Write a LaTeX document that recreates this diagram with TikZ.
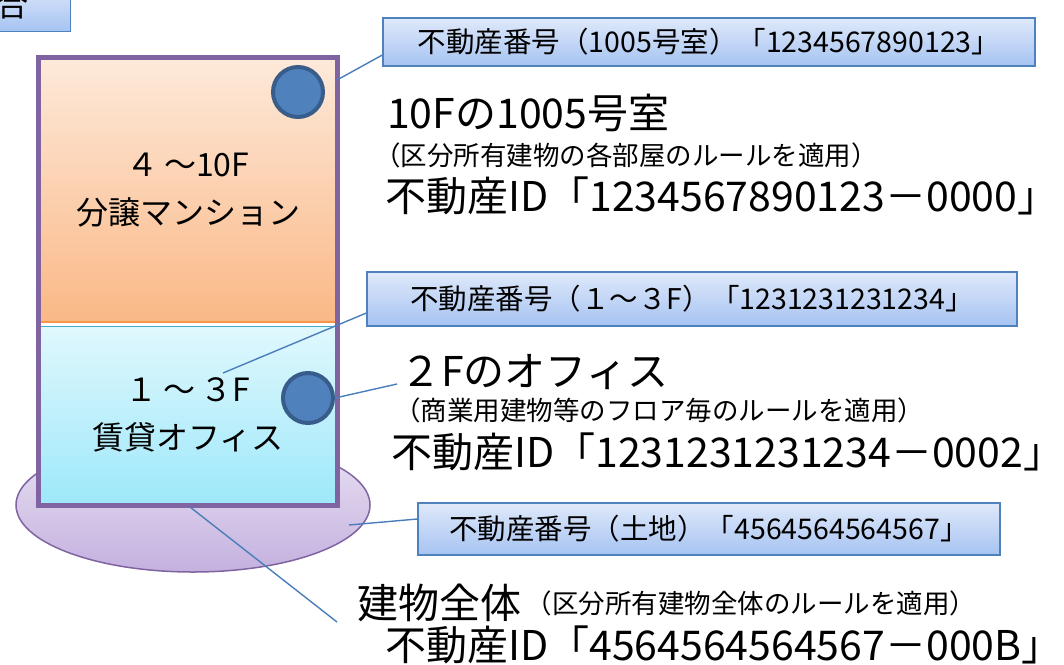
\documentclass[tikz,border=0pt]{standalone}
\usepackage{fontspec}
\setmainfont{Noto Sans CJK JP}
\usetikzlibrary{positioning}

\definecolor{boxline}{HTML}{4F81BD}
\definecolor{boxtop}{HTML}{DFE9FA}
\definecolor{boxbot}{HTML}{A6C3F2}
\definecolor{leadline}{HTML}{4A7EBB}
\definecolor{bldline}{HTML}{8064A2}
\definecolor{orangetop}{HTML}{FDE9DA}
\definecolor{orangebot}{HTML}{FAB886}
\definecolor{orangeline}{HTML}{F79646}
\definecolor{cyantop}{HTML}{E0F8FD}
\definecolor{cyanbot}{HTML}{9EE8FA}
\definecolor{cyanline}{HTML}{4BACC6}
\definecolor{landtop}{HTML}{EAE3F3}
\definecolor{landbot}{HTML}{C4B1DF}
\definecolor{unitfill}{HTML}{4F81BD}
\definecolor{unitline}{HTML}{385D8A}

\tikzset{
  numbox/.style={draw=boxline, line width=1.3pt, top color=boxtop, bottom color=boxbot,
    minimum height=48pt, inner sep=0pt, font=\fontsize{28.5}{30}\selectfont},
  leader/.style={draw=leadline, line width=1.4pt},
  floor/.style={inner sep=0pt, align=center, minimum width=296pt,
    font=\fontsize{32}{48}\selectfont},
  unit/.style={circle, fill=unitfill, draw=unitline, line width=4pt, minimum size=50pt, inner sep=0pt},
  bigtext/.style={inner sep=0pt, anchor=west, font=\fontsize{41}{44}\selectfont},
  smalltext/.style={inner sep=0pt, anchor=west, font=\fontsize{26.5}{30}\selectfont}
}

\begin{document}
\begin{tikzpicture}[x=1pt,y=-1pt]
 \useasboundingbox (0,0) rectangle (1064,664);
 \clip (0,0) rectangle (1064,664);

 % cut-off label top left
 \node[numbox, minimum width=140pt, anchor=south east] (corner) at (71,32) {};
 \node[font=\fontsize{32}{32}\selectfont, inner sep=0pt] (cornertext) at (12,4) {合};

 % land
 \draw[draw=bldline, line width=1.5pt, top color=landtop, bottom color=landbot]
   (193,505) ellipse [x radius=177, y radius=67];

 % building
 \node[floor, minimum height=263pt, top color=orangetop, bottom color=orangebot] (mansion) at (188,190.5) {４\,～10F\\分譲マンション};
 \draw[orangeline, line width=2pt] (mansion.south west) -- (mansion.south east);
 \node[floor, minimum height=177pt, draw=cyanline, line width=1pt, top color=cyantop, bottom color=cyanbot] (office) at (188,414.5) {１\,～\,３F\\賃貸オフィス};
 \draw[bldline, line width=5pt] (38,57) rectangle (337,505);

 \node[unit] (roomunit) at (298,92) {};
 \node[unit] (officeunit) at (308,398) {};

 % labels
 \node[numbox, minimum width=652pt] (roomno) at (709,42) {不動産番号（1005号室）「1234567890123」};
 \node[numbox, minimum width=650pt, minimum height=54pt] (floorno) at (692,299) {不動産番号（１～３F）「1231231231234」};
 \node[numbox, minimum width=582pt, minimum height=52pt] (landno) at (709,529) {不動産番号（土地）「4564564564567」};

 % texts
 \node[bigtext] (roomname) at (387,113) {10Fの1005号室};
 \node[smalltext] (roomrule) at (374,155) {（区分所有建物の各部屋のルールを適用）};
 \node[bigtext] (roomid) at (385,196) {不動産ID「1234567890123－0000」};

 \node[bigtext] (officename) at (400,372) {２Fのオフィス};
 \node[smalltext] (officerule) at (394,410) {（商業用建物等のフロア毎のルールを適用）};
 \node[bigtext] (officeid) at (391,452) {不動産ID「1231231231234－0002」};

 \node[bigtext] (wholename) at (357,603) {建物全体};
 \node[smalltext, right=4pt of wholename] (wholerule) {（区分所有建物全体のルールを適用）};
 \node[bigtext] (wholeid) at (385,645) {不動産ID「4564564564567－000B」};

 % leaders
 \coordinate (roompt) at (337,80);
 \coordinate (floorpt) at (223,373);
 \coordinate (officept) at (397,384);
 \coordinate (landpt) at (349,525);
 \coordinate (bldpt) at (190,507);
 \coordinate (wholept) at (337,622);
 \draw[leader] (roompt) -- ([yshift=-13pt]roomno.west);
 \draw[leader] (floorpt) -- ([yshift=-14pt]floorno.west);
 \draw[leader] (officeunit.east) -- (officept);
 \draw[leader] (landpt) -- ([yshift=10pt]landno.west);
 \draw[leader] (bldpt) -- (wholept);
\end{tikzpicture}
\end{document}
